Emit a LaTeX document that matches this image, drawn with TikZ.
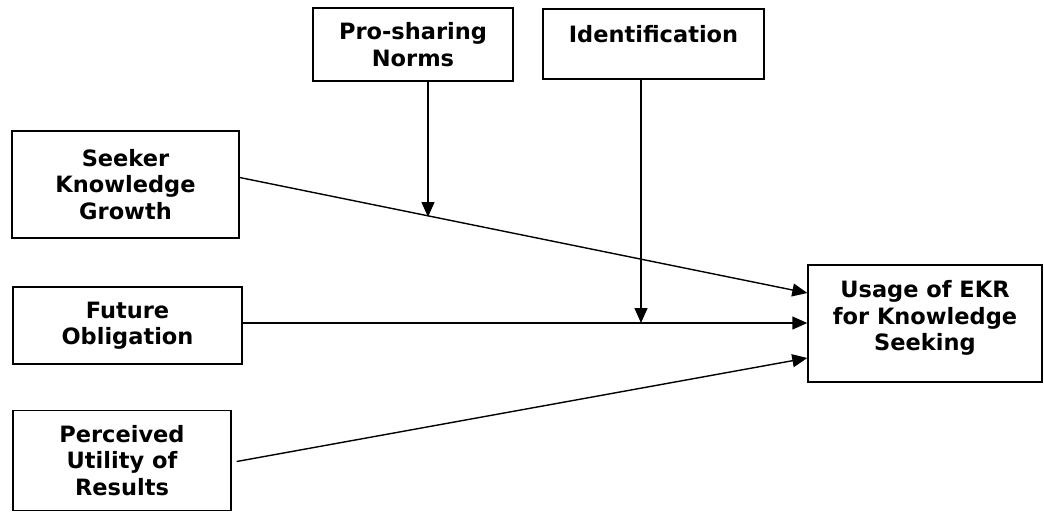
\documentclass[tikz,border=0pt]{standalone}
\usepackage{fontspec}
\setmainfont{DejaVu Sans}
\usetikzlibrary{arrows.meta}
\begin{document}
\begin{tikzpicture}[x=1pt,y=-1pt,
  box/.style={draw=black,line width=1.4pt,inner sep=0pt,align=center,
    font=\bfseries\fontsize{22.5}{26.5}\selectfont},
  txt/.style={inner sep=0pt,align=center,font=\bfseries\fontsize{22.5}{26.5}\selectfont},
  conn/.style={line width=1.4pt,-{Triangle[length=15pt,width=13pt]}}]
\useasboundingbox (0,0) rectangle (1044,512);
\fill[white] (0,0) rectangle (1044,512);
% boxes
\node[box,minimum width=200pt,minimum height=73pt] (ps) at (413,44.5) {Pro-sharing\\Norms};
\node[box,minimum width=221pt,minimum height=70pt] (id) at (653.5,44) {};
\node[txt] (idt) at (653.5,34) {Identification};
\node[box,minimum width=227pt,minimum height=107pt] (skg) at (125.5,184.5) {Seeker\\Knowledge\\Growth};
\node[box,minimum width=229pt,minimum height=77pt] (fo) at (127.5,325.5) {Future\\Obligation};
\node[box,minimum width=218pt,minimum height=100pt] (pur) at (122,460.5) {Perceived\\Utility of\\Results};
\node[box,minimum width=234pt,minimum height=117pt] (ekr) at (925,323.5) {};
\node[txt] (ekrt) at (925,318) {Usage of EKR\\for Knowledge\\Seeking};
% moderation points
\coordinate (m1) at (428,217);
\coordinate (m2) at (641,323);
% connectors
\draw[conn] ([yshift=7pt]skg.east) -- ([yshift=30.5pt]ekr.west);
\draw[conn] (fo.east |- m2) -- (ekr.west |- m2);
\draw[conn] ([xshift=5pt,yshift=-1pt]pur.east) -- ([yshift=-34.5pt]ekr.west);
\draw[conn] (ps.south -| m1) -- (m1);
\draw[conn] (id.south -| m2) -- (m2);
\end{tikzpicture}
\end{document}
